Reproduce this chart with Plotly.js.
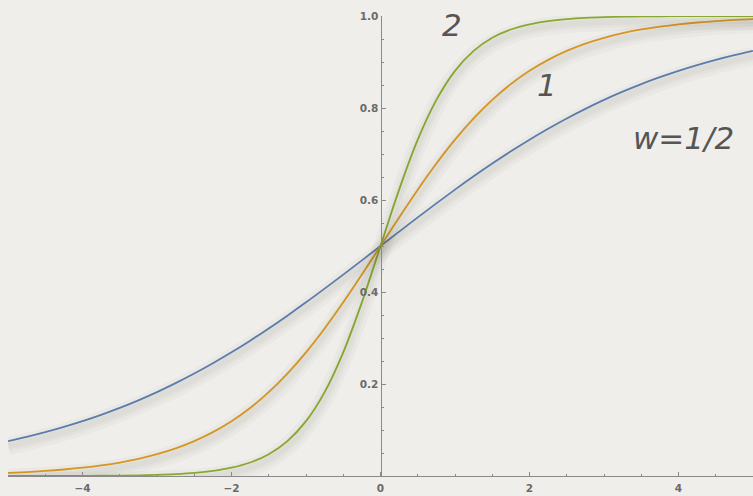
<!DOCTYPE html>
<html>
<head>
<meta charset="utf-8">
<script src="https://cdn.plot.ly/plotly-3.0.1.min.js"></script>
<style>html,body{margin:0;padding:0;background:#efeeeb;}#chart{width:753px;height:496px;}</style>
</head>
<body>
<div id="chart"></div>
<script>
// x sample positions
const xValues = [-5,-4.75,-4.5,-4.25,-4,-3.75,-3.5,-3.25,-3,-2.75,-2.5,-2.25,-2,-1.75,-1.5,-1.25,-1,-0.75,-0.5,-0.25,0,
  0.25,0.5,0.75,1,1.25,1.5,1.75,2,2.25,2.5,2.75,3,3.25,3.5,3.75,4,4.25,4.5,4.75,5];
// w = 1/2 (blue)
const yHalf = [0.0759,0.0851,0.0953,0.1067,0.1192,0.1330,0.1480,0.1645,0.1824,0.2018,0.2227,0.2451,0.2689,0.2942,0.3208,0.3486,0.3775,0.4073,0.4378,0.4688,0.5,
  0.5312,0.5622,0.5927,0.6225,0.6514,0.6792,0.7058,0.7311,0.7549,0.7773,0.7982,0.8176,0.8355,0.8520,0.8670,0.8808,0.8933,0.9047,0.9149,0.9241];
// w = 1 (orange)
const yOne = [0.0067,0.0086,0.0110,0.0141,0.0180,0.0230,0.0293,0.0373,0.0474,0.0601,0.0759,0.0953,0.1192,0.1480,0.1824,0.2227,0.2689,0.3208,0.3775,0.4378,0.5,
  0.5622,0.6225,0.6792,0.7311,0.7773,0.8176,0.8520,0.8808,0.9047,0.9241,0.9399,0.9526,0.9627,0.9707,0.9770,0.9820,0.9859,0.9890,0.9914,0.9933];
// w = 2 (green)
const yTwo = [0.00005,0.00007,0.00012,0.0002,0.00034,0.00055,0.0009,0.0015,0.0025,0.0041,0.0067,0.0110,0.0180,0.0293,0.0474,0.0759,0.1192,0.1824,0.2689,0.3775,0.5,
  0.6225,0.7311,0.8176,0.8808,0.9241,0.9526,0.9707,0.9820,0.9890,0.9933,0.9959,0.9975,0.9985,0.9991,0.9995,0.9997,0.9998,0.9999,0.9999,1.0];
// labels
const seriesLabels = ["w=1/2", "1", "2"];
const labelX = [4.07, 2.23, 0.96];
const labelY = [0.735, 0.85, 0.98];
const xTickVals = [-4, -2, 0, 2, 4];
const yTickVals = [0.2, 0.4, 0.6, 0.8, 1.0];
const yTickText = ["0.2", "0.4", "0.6", "0.8", "1.0"];

const series = [yHalf, yOne, yTwo];
const colors = ["#5e81b5", "#e19c24", "#8fb032"];

const traces = [];
// soft drop shadows on an offset overlay axis pair
[18, 11, 6].forEach(function (w) {
  series.forEach(function (ys) {
    traces.push({x: xValues, y: ys, xaxis: 'x2', yaxis: 'y2', mode: 'lines',
      line: {color: 'rgba(60,50,40,0.03)', width: w, shape: 'spline', smoothing: 1},
      hoverinfo: 'skip', showlegend: false});
  });
});
series.forEach(function (ys, i) {
  traces.push({x: xValues, y: ys, mode: 'lines',
    line: {color: colors[i], width: 1.8, shape: 'spline', smoothing: 1},
    showlegend: false});
});

const annotations = seriesLabels.map(function (t, i) {
  return {x: labelX[i], y: labelY[i], xref: 'x', yref: 'y', text: t, showarrow: false,
    font: {family: 'DejaVu Sans', size: 31, color: '#555555', style: 'italic'}};
});

const pxX = 10 / 745, pxY = 1 / 460;
const tickFont = {family: 'DejaVu Sans', size: 10.5, color: '#6a6a6a', weight: 700};
const layout = {
  width: 753, height: 496,
  margin: {l: 8, r: 0, t: 16, b: 20},
  paper_bgcolor: '#efeeeb', plot_bgcolor: 'rgba(0,0,0,0)',
  showlegend: false,
  xaxis: {range: [-5, 5], showgrid: false, zeroline: false, showline: true, linecolor: '#8a8a8a', linewidth: 1,
    ticks: 'inside', ticklen: 4, tickcolor: '#8a8a8a', tickmode: 'array', tickvals: xTickVals,
    tickfont: tickFont, ticklabelstandoff: 2,
    minor: {tickmode: 'linear', tick0: 0, dtick: 0.5, ticks: 'inside', ticklen: 2, tickcolor: '#8a8a8a'},
    fixedrange: true},
  yaxis: {range: [0, 1], anchor: 'free', position: 0.5, side: 'left', showgrid: false, zeroline: false,
    showline: true, linecolor: '#8a8a8a', linewidth: 1,
    ticks: 'inside', ticklen: 4, tickcolor: '#8a8a8a', tickmode: 'array', tickvals: yTickVals, ticktext: yTickText,
    tickfont: tickFont,
    minor: {tickmode: 'linear', tick0: 0, dtick: 0.05, ticks: 'inside', ticklen: 2.5, tickcolor: '#8a8a8a'},
    fixedrange: true},
  xaxis2: {range: [-5 - 0.3 * pxX, 5 - 0.3 * pxX], overlaying: 'x', visible: false, fixedrange: true},
  yaxis2: {range: [0 + 5 * pxY, 1 + 5 * pxY], overlaying: 'y', visible: false, fixedrange: true},
  annotations: annotations
};

Plotly.newPlot('chart', traces, layout, {displayModeBar: false, staticPlot: true});
</script>
</body>
</html>
